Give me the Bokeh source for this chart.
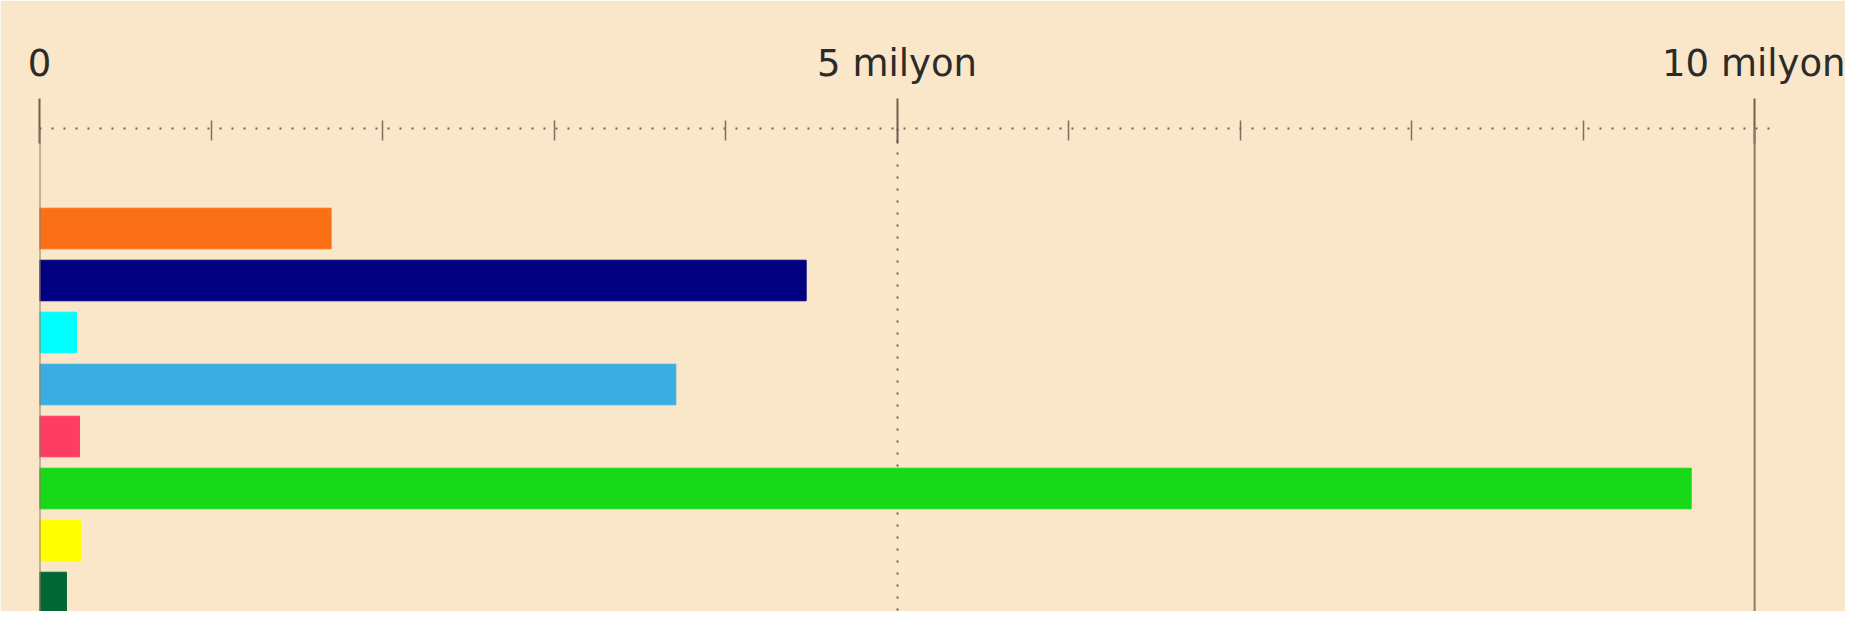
from bokeh.plotting import figure
from bokeh.models import FixedTicker, Span, Range1d, ColumnDataSource
from bokeh.embed import file_html
from bokeh.resources import INLINE

categories = ["A", "B", "C", "D", "E", "F", "G", "H"]
values = [1700000, 4470000, 216000, 3710000, 233000, 9630000, 239000, 157000]
colors = ["#fb6f17", "#000080", "#00ffff", "#3aaee0", "#ff3d63", "#17d917", "#ffff00", "#006837"]
major_ticks = [0, 5000000, 10000000]
tick_labels = ["0", "5 milyon", "10 milyon"]
minor_ticks = [1000000, 2000000, 3000000, 4000000, 6000000, 7000000, 8000000, 9000000]

BG = "#fae6c8"

src = ColumnDataSource(dict(
    y=list(range(len(categories))),
    cat=categories,
    value=values,
    color=colors,
))

p = figure(width=1845, height=611,
           x_range=Range1d(0, 10110000), y_range=Range1d(7.365, -1.923),
           x_axis_location="above", y_axis_location=None,
           toolbar_location=None, output_backend="svg",
           min_border_top=128, min_border_left=39, min_border_right=72, min_border_bottom=0)

p.background_fill_color = BG
p.border_fill_color = BG
p.outline_line_color = None

p.hbar(y="y", left=0, right="value", height=0.78, color="color", source=src)

p.ygrid.visible = False
p.xgrid.ticker = FixedTicker(ticks=[major_ticks[1]])
p.xgrid.grid_line_color = "#6f6454"
p.xgrid.grid_line_dash = "2 10"
p.xgrid.grid_line_width = 2

ax = p.xaxis[0]
ax.ticker = FixedTicker(ticks=major_ticks, minor_ticks=minor_ticks)
ax.major_label_overrides = {t: l for t, l in zip(major_ticks, tick_labels)}
ax.axis_line_color = "#6f6454"
ax.axis_line_dash = "2 10"
ax.axis_line_width = 2
ax.major_tick_line_color = "#6e6150"
ax.major_tick_line_width = 2
ax.major_tick_out = 30
ax.major_tick_in = 15
ax.minor_tick_line_color = "#7d7060"
ax.minor_tick_line_width = 1.5
ax.minor_tick_out = 8
ax.minor_tick_in = 12
ax.major_label_text_font = "DejaVu Sans"
ax.major_label_text_font_size = "37px"
ax.major_label_text_color = "#2b2b2b"
ax.major_label_standoff = 14

for loc in (major_ticks[0], major_ticks[-1]):
    p.add_layout(Span(location=loc, dimension="height", line_color="#8c7b65", line_width=2))

open("out.html", "w").write(file_html(p, INLINE))
